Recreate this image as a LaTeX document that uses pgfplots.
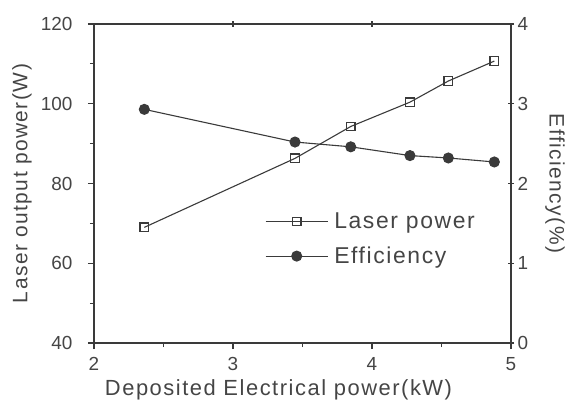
\documentclass[border=0pt]{standalone}
\usepackage{pgfplots}
\pgfplotsset{compat=1.18}
\usepackage{fontspec}
\setmainfont{Liberation Sans}
\newfontfamily\wide[LetterSpace=7]{Liberation Sans}
\definecolor{ink}{HTML}{3A3A3A}
\definecolor{txt}{HTML}{454545}

\begin{document}
\begin{tikzpicture}[x=1bp,y=1bp]
\path[use as bounding box] (-94,-60) rectangle (475,343);
\pgfplotsset{
  base/.style={
    at={(0,0)}, anchor=south west,
    scale only axis, width=417bp, height=319bp,
    xmin=2, xmax=5,
    axis line style={ink, line width=1.3pt},
    every tick/.style={ink, line width=1.1pt},
    major tick length=6bp, minor tick length=4bp,
    ticklabel style={font=\fontsize{19}{21}\selectfont, text=txt},
    /pgf/number format/assume math mode=true,
  },
  lp/.style={ink, line width=1.1pt, mark=square, mark size=4.3pt, mark options={fill=white, solid, line width=1.3pt}},
  ef/.style={ink, line width=1.1pt, mark=*, mark size=5pt, mark options={fill=ink, solid}},
}
\begin{axis}[base,
  axis y line*=left, axis x line*=bottom,
  tick align=outside,
  ymin=40, ymax=120, ytick={40,60,...,120},
  xtick={2,3,4,5}, minor x tick num=1, minor y tick num=1,
  yticklabel style={xshift=-12bp},
  xticklabel style={yshift=-5bp},
  xlabel={Deposited Electrical power(kW)},
  ylabel={Laser output power(W)},
  every axis x label/.style={at={(rel axis cs:0.5,0)}, anchor=center, yshift=-47bp, xshift=-24bp,
    font=\wide\fontsize{22}{24}\selectfont, text=txt},
  every axis y label/.style={at={(rel axis cs:0,0.5)}, anchor=center, rotate=90, yshift=72bp,
    font=\wide\fontsize{21}{24}\selectfont, text=txt},
]
\addplot[lp] coordinates {
  (2.362,69.0)(3.446,86.3)(3.847,94.3)(4.273,100.4)(4.549,105.7)(4.880,110.7)
};
\end{axis}
\begin{axis}[base,
  axis y line*=right, axis x line*=top,
  tick align=center,
  ymin=0, ymax=4, ytick={0,1,2,3,4},
  xtick={3,4}, xticklabels={},
  ylabel={Efficiency(\%)},
  every axis y label/.style={at={(rel axis cs:1,0.5)}, anchor=center, rotate=-90, yshift=44bp,
    font=\wide\fontsize{21}{24}\selectfont, text=txt},
  legend style={at={(rel axis cs:0.41,0.415)}, anchor=north west, draw=none, fill=none,
    font=\wide\fontsize{23}{25}\selectfont, text=txt, row sep=13bp, inner sep=0pt,
    nodes={inner xsep=6bp}},
  legend cell align=left,
  legend image code/.code={
    \draw[mark repeat=2, mark phase=2, #1] plot coordinates {(0bp,0bp)(31bp,0bp)(62bp,0bp)};
  },
]
\addlegendimage{lp}
\addlegendentry{Laser power}
\addplot[ef] coordinates {
  (2.362,2.93)(3.446,2.52)(3.847,2.46)(4.273,2.35)(4.549,2.32)(4.880,2.27)
};
\addlegendentry{Efficiency}
\end{axis}
\end{tikzpicture}
\end{document}
